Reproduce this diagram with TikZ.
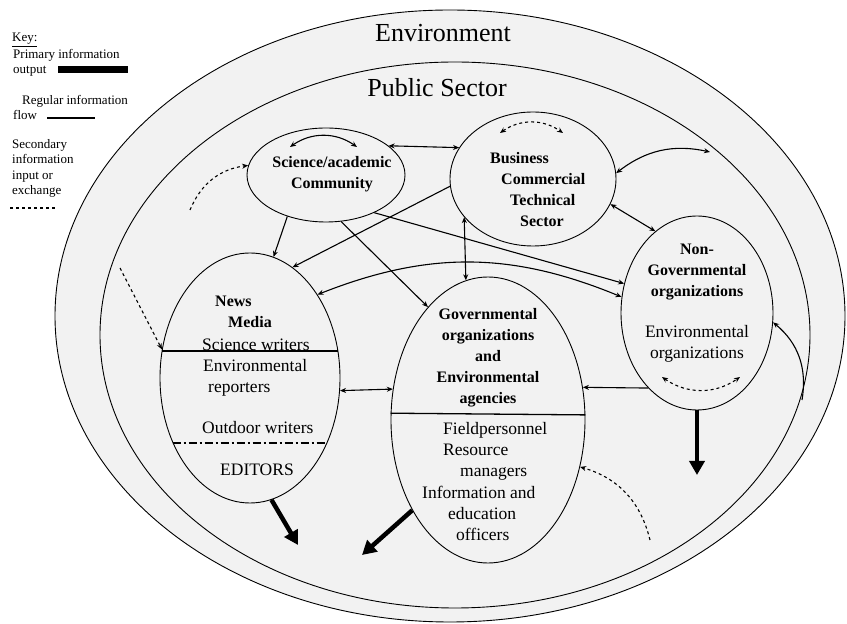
\documentclass[tikz,border=0pt]{standalone}
\usepackage{fontspec}
\setmainfont{Liberation Serif}
\usetikzlibrary{arrows.meta, shapes.geometric}
\definecolor{bandgray}{HTML}{F2F2F2}
\newcommand{\ringfont}{\fontsize{26}{30}\selectfont}
\newcommand{\ovalhead}{\fontsize{16}{21}\selectfont\bfseries}
\newcommand{\ovaltext}{\fontsize{17.5}{21.3}\selectfont}
\newcommand{\keytext}{\fontsize{13}{15.5}\selectfont}

\begin{document}
\begin{tikzpicture}[x=1pt, y=1pt,
  oval/.style={ellipse, draw, fill=bandgray, line width=0.9pt, inner sep=0pt},
  ovalhead/.style={font=\ovalhead, align=center, inner sep=0pt},
  ovalbody/.style={font=\ovaltext, align=left, inner sep=0pt},
  keynote/.style={font=\keytext, align=left, inner sep=0pt, anchor=west},
  regflow/.style={line width=1.1pt, -{Stealth[length=6pt,width=5pt]}},
  twoway/.style={line width=1.1pt, {Stealth[length=6pt,width=5pt]}-{Stealth[length=6pt,width=5pt]}},
  secflow/.style={regflow, dashed},
  primout/.style={line width=4.5pt, -{Triangle[length=14pt,width=15pt]}},
  divider/.style={line width=1.3pt}]
\useasboundingbox (0,0) rectangle (847,624);

% rings
\node[oval, minimum width=790, minimum height=612] (env) at (450,308) {};
\node[oval, minimum width=710, minimum height=546] (pub) at (455,289) {};
\node[font=\ringfont] (envlabel) at (443,591) {Environment};
\node[font=\ringfont] (publabel) at (437,536) {Public Sector};

% sectors
\node[oval, minimum width=158, minimum height=94] (sci) at (326,449) {};
\node[oval, minimum width=166, minimum height=134] (bus) at (533,445) {};
\node[oval, minimum width=180, minimum height=250] (news) at (250,246) {};
\node[oval, minimum width=194, minimum height=286] (gov) at (488,204) {};
\node[oval, minimum width=152, minimum height=194] (ngo) at (697,311) {};

\draw[divider] (news.163) -- (news.17);
\draw[divider, dash pattern=on 8pt off 3pt on 2pt off 3pt] (news.220) -- (news.320);
\draw[divider] (gov.176.5) -- (gov.3.5);

\node[ovalhead] (scitext) at (332,450) {Science/academic\\Community};
\node[ovalhead, anchor=west, align=left] (bustext) at (490,434)
  {Business\\\hspace*{11pt}Commercial\\\hspace*{20pt}Technical\\\hspace*{30pt}Sector};
\node[ovalhead, anchor=west, align=left] (newshead) at (215,312) {News\\\hspace*{13pt}Media};
\node[ovalbody, anchor=west] (sciwriters) at (202,279) {Science writers};
\node[ovalbody, anchor=west] (reporters) at (203,246.5) {Environmental\\\hspace*{5pt}reporters};
\node[ovalbody, anchor=west] (outdoor) at (202,196) {Outdoor writers};
\node[ovalbody] (editors) at (257,154) {EDITORS};
\node[ovalhead] (govhead) at (488,266)
  {Governmental\\organizations\\and\\Environmental\\agencies};
\node[ovalbody, anchor=west] (govbody) at (422,142.5)
  {\hspace*{21pt}Fieldpersonnel\\\hspace*{21pt}Resource\\\hspace*{38pt}managers\\
   Information and\\\hspace*{26pt}education\\\hspace*{34pt}officers};
\node[ovalhead] (ngohead) at (697,352) {Non-\\Governmental\\organizations};
\node[ovalbody, align=center] (ngobody) at (697,280) {Environmental\\organizations};

% key
\node[keynote] (keytitle) at (12,584) {\underline{Key:}};
\node[keynote] (keyprim) at (13,561) {Primary information\\output};
\draw[line width=7pt] (58,554) -- (128,554);
\node[keynote] (keyreg) at (13,516.5) {\hspace*{9pt}Regular information\\flow};
\draw[line width=1.6pt] (47,506) -- (95,506);
\node[keynote] (keysec) at (12,455.5) {Secondary\\information\\input or\\exchange};
\draw[line width=1.6pt, dashed] (10,416) -- (56,416);

% free ends
\coordinate (busout) at (710,472);
\coordinate (ngoin) at (802,224);
\coordinate (newsout) at (298,79);
\coordinate (govout) at (362,69);
\coordinate (ngoout) at (697,149);
\coordinate (sciin) at (190,414);
\coordinate (newsin) at (120,356);
\coordinate (govin) at (650,84);

% flows
\draw[twoway] ([shift={(-36,28)}]sci.center) to[bend left=35] ([shift={(31,28)}]sci.center);
\draw[twoway, dashed] ([shift={(-33,46)}]bus.center) to[bend left=35] ([shift={(30,46)}]bus.center);
\draw[twoway] (sci.25) -- (bus.157);
\draw[twoway] (bus.4) to[bend left=25] (busout);
\draw[twoway] (bus.342) -- (ngo.117);
\draw[twoway] (bus.209) -- (gov.99);
\draw[regflow] (sci.227) -- (news.79);
\draw[regflow] (bus.185) -- (news.69);
\draw[regflow] (sci.288) -- (gov.118);
\draw[regflow] (sci.322) -- (ngo.158);
\draw[twoway] (ngo.168) to[bend right=22] (news.51);
\draw[twoway] (news.352) -- (gov.162);
\draw[regflow] (ngo.237) -- (gov.19);
\draw[twoway, dashed] ([shift={(-35,-64)}]ngo.center) to[bend right=35] ([shift={(43,-64)}]ngo.center);
\draw[regflow] (ngoin) to[bend right=30] (ngo.353);
\draw[primout] (news.280) -- (newsout);
\draw[primout] (gov.230) -- (govout);
\draw[primout] (ngo.south) -- (ngoout);
\draw[secflow] (sciin) to[bend left=30] (sci.173);
\draw[secflow] (newsin) -- (news.162);
\draw[secflow] (govin) to[bend right=30] (gov.333);
\end{tikzpicture}
\end{document}
